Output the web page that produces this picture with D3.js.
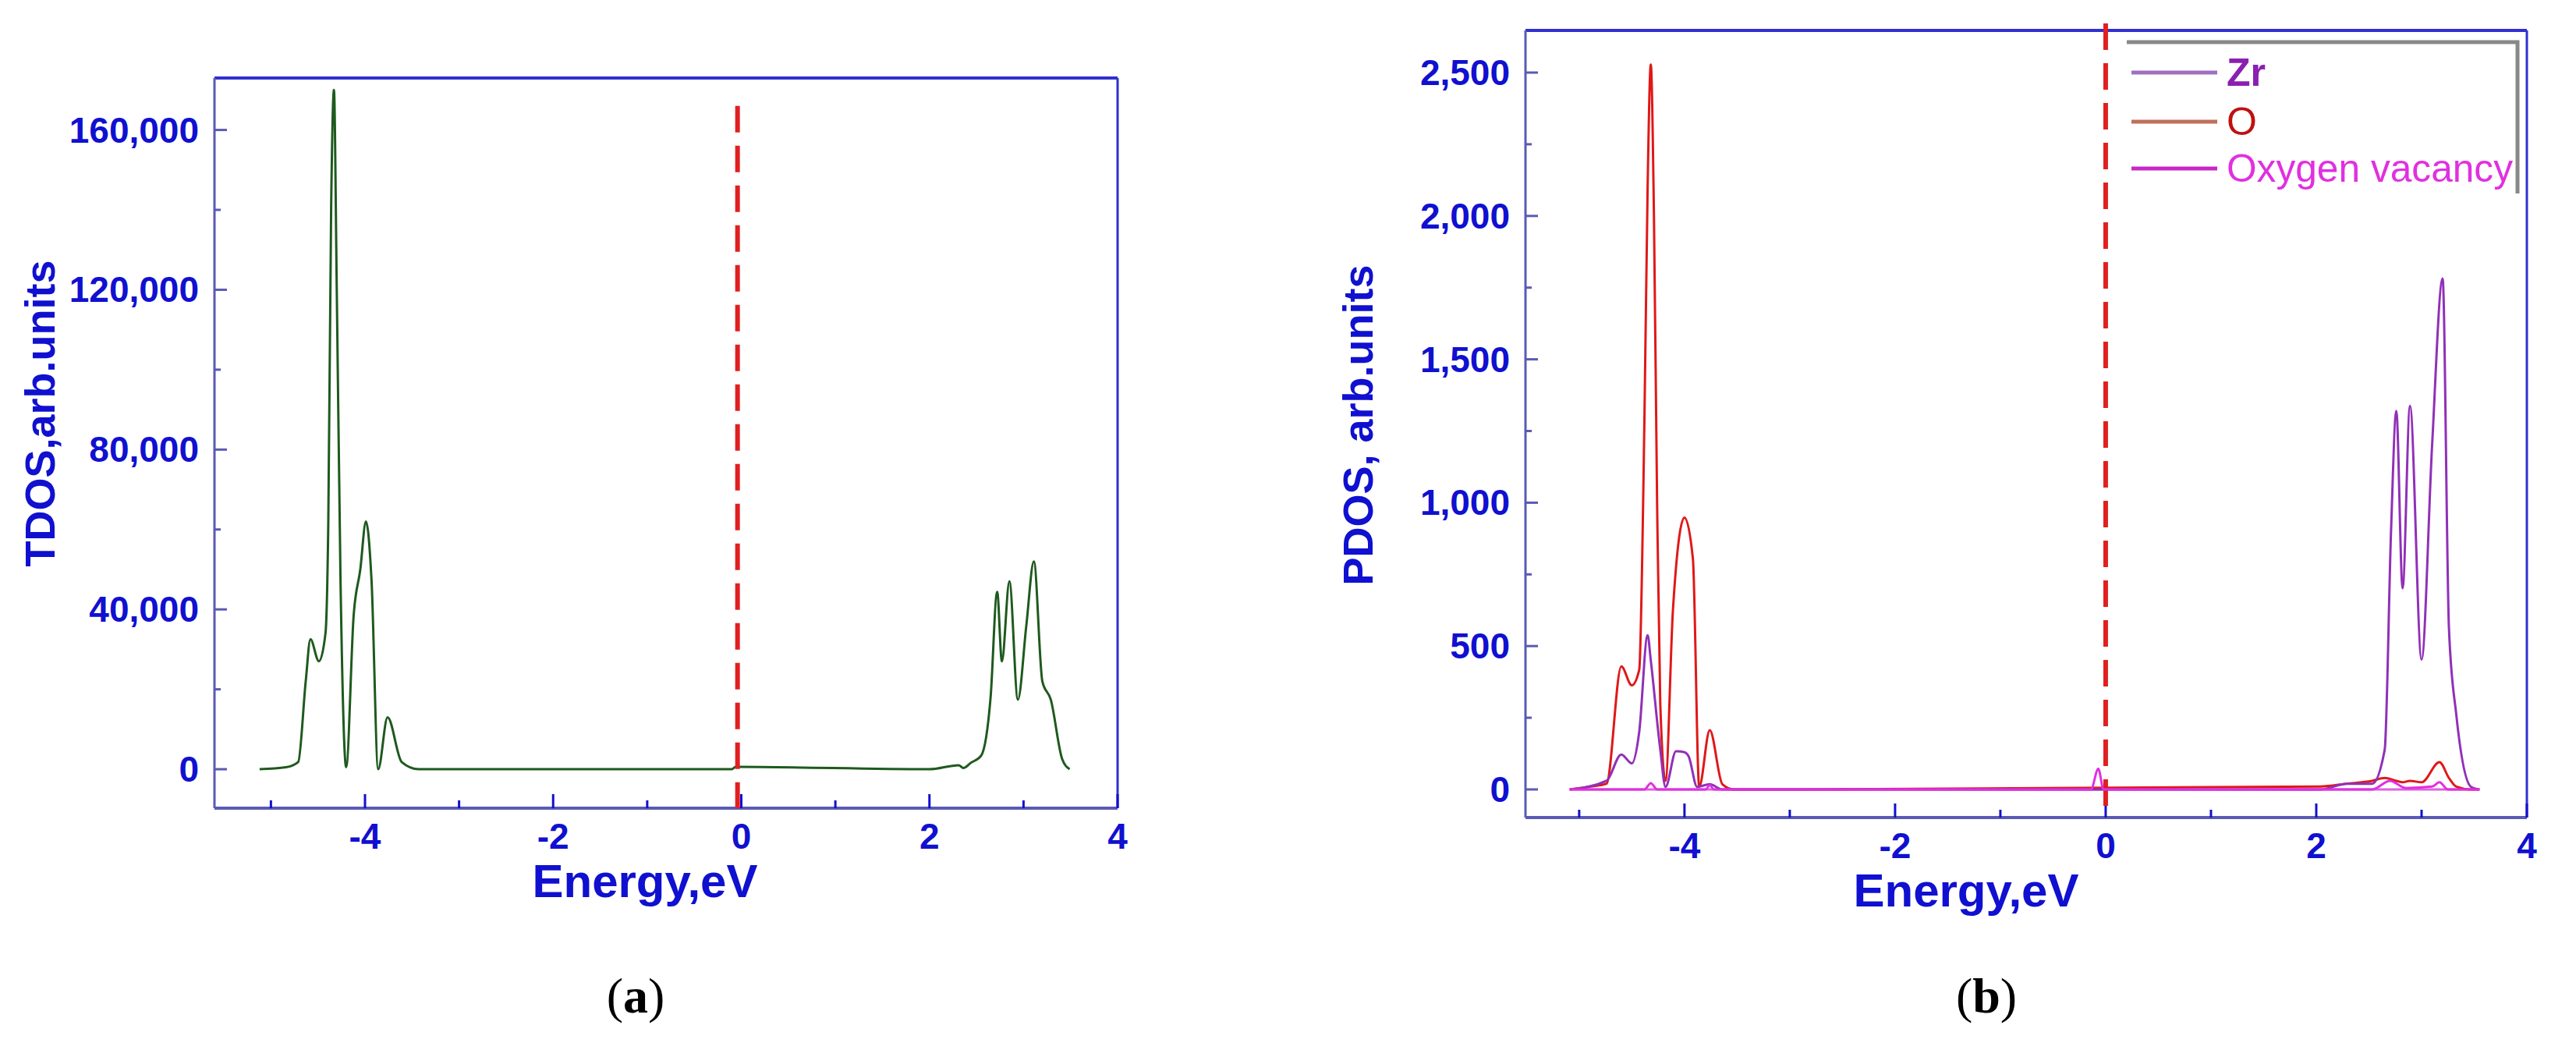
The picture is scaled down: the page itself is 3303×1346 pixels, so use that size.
<!DOCTYPE html>
<html><head><meta charset="utf-8">
<script src="https://cdn.jsdelivr.net/npm/d3@7"></script>
<style>body{margin:0;background:#fff}svg{display:block}</style>
</head><body>
<script>
// ---------- data ----------
const tdosE = [-5.12,-4.84,-4.71,-4.63,-4.58,-4.49,-4.42,-4.39,-4.36,-4.33,-4.30,-4.26,-4.20,-4.12,-4.05,-3.99,-3.93,-3.86,-3.76,-3.61,-3.43,-0.10,-0.06,2.00,2.31,2.36,2.44,2.55,2.65,2.72,2.77,2.85,2.94,3.03,3.11,3.20,3.29,3.41,3.49];
const tdosV = [0,500,1800,22000,32500,27000,34000,62000,140000,170000,120000,47000,500,38700,50000,62000,47000,0,13000,1800,0,0,600,0,1000,300,1600,3400,18000,44400,27000,47000,17400,36000,52000,22000,17400,2600,0];

const pdosE = [-5.09,-4.89,-4.74,-4.60,-4.50,-4.43,-4.38,-4.35,-4.32,-4.29,-4.26,-4.23,-4.18,-4.11,-4.00,-3.92,-3.86,-3.76,-3.64,-3.53,-3.21,2.04,2.29,2.53,2.65,2.76,2.82,2.89,3.00,3.17,3.26,3.33,3.47,3.55];
const oV    = [0,10,20,429,363,417,1300,2100,2528,2000,1000,300,30,623,948,804,9,207,18,0,0,10,20,30,40,30,25,30,25,95,40,10,0,0];
const zrE   = [-5.09,-4.74,-4.60,-4.50,-4.43,-4.35,-4.32,-4.23,-4.18,-4.08,-4.00,-3.96,-3.88,-3.76,-3.64,-3.21,2.04,2.29,2.53,2.65,2.71,2.76,2.82,2.89,3.00,3.10,3.20,3.26,3.33,3.47,3.55];
const zrV   = [0,30,122,91,200,538,450,139,9,133,130,115,9,18,0,0,0,20,20,139,900,1320,701,1338,453,1200,1782,562,260,9,0];
const vacE  = [-5.09,-4.38,-4.32,-4.26,-3.80,-3.76,-3.72,-0.14,-0.07,-0.02,2.53,2.70,2.85,3.10,3.17,3.25,3.55];
const vacV  = [0,0,22,0,0,15,0,0,72,0,0,30,5,10,25,0,0];

const xTicks = [-4,-2,0,2,4];
const xMinor = [-5,-3,-1,1,3];
const tdosTicks = [0,40000,80000,120000,160000];
const tdosMinor = [20000,60000,100000,140000];
const pdosTicks = [0,500,1000,1500,2000,2500];
const pdosMinor = [250,750,1250,1750,2250];
const legendNames = ["Zr","O","Oxygen vacancy"];
const legendColors = ["#a070c0","#c0705a","#c828c8"];
const legendText = ["#8a20b0","#c01010","#e030e0"];

// ---------- drawing ----------
const svg = d3.select("body").append("svg").attr("width",3303).attr("height",1346);
const blue = "#1010d0", frame = "#5a5ab4";
const fmt = d3.format(",");

function panel(o){
  const x = d3.scaleLinear().domain(o.xd).range([o.l,o.r]);
  const y = d3.scaleLinear().domain(o.yd).range([o.b,o.t]);
  const g = svg.append("g");
  g.append("line").attr("x1",o.l).attr("x2",o.r).attr("y1",o.t).attr("y2",o.t).attr("stroke","#3030d0").attr("stroke-width",4);
  g.append("line").attr("x1",o.l).attr("x2",o.r).attr("y1",o.b).attr("y2",o.b).attr("stroke",frame).attr("stroke-width",4);
  g.append("line").attr("x1",o.l).attr("x2",o.l).attr("y1",o.t).attr("y2",o.b).attr("stroke",frame).attr("stroke-width",3);
  g.append("line").attr("x1",o.r).attr("x2",o.r).attr("y1",o.t).attr("y2",o.b).attr("stroke","#3030d0").attr("stroke-width",3);
  g.selectAll(null).data(xTicks).enter().append("line").attr("x1",d=>x(d)).attr("x2",d=>x(d)).attr("y1",o.b).attr("y2",o.b-18).attr("stroke",blue).attr("stroke-width",3);
  g.selectAll(null).data(xMinor).enter().append("line").attr("x1",d=>x(d)).attr("x2",d=>x(d)).attr("y1",o.b).attr("y2",o.b-10).attr("stroke",blue).attr("stroke-width",3);
  g.selectAll(null).data(xTicks).enter().append("text").attr("x",d=>x(d)).attr("y",o.b+52)
    .attr("text-anchor","middle").attr("font-family","Liberation Sans").attr("font-weight","bold").attr("font-size",46).attr("fill",blue).text(d=>d);
  g.selectAll(null).data(o.yt).enter().append("line").attr("x1",o.l).attr("x2",o.l+16).attr("y1",d=>y(d)).attr("y2",d=>y(d)).attr("stroke",frame).attr("stroke-width",3);
  g.selectAll(null).data(o.ym).enter().append("line").attr("x1",o.l).attr("x2",o.l+8).attr("y1",d=>y(d)).attr("y2",d=>y(d)).attr("stroke",frame).attr("stroke-width",3);
  g.selectAll(null).data(o.yt).enter().append("text").attr("x",o.l-20).attr("y",d=>y(d)+16)
    .attr("text-anchor","end").attr("font-family","Liberation Sans").attr("font-weight","bold").attr("font-size",46).attr("fill",blue).text(d=>fmt(d));
  g.append("text").attr("x",(o.l+o.r)/2 + o.xtOff).attr("y",o.b+114).attr("text-anchor","middle")
    .attr("font-family","Liberation Sans").attr("font-weight","bold").attr("font-size",60).attr("fill",blue).text("Energy,eV");
  g.append("text").attr("transform",`translate(${o.ytx},${o.yty}) rotate(-90)`).attr("text-anchor","middle")
    .attr("font-family","Liberation Sans").attr("font-weight","bold").attr("font-size",54).attr("fill",blue).text(o.ytitle);
  g.append("text").attr("x",o.capx).attr("y",1298).attr("text-anchor","middle")
    .attr("font-family","Liberation Serif").attr("font-size",64).attr("fill","#000")
    .html(`(<tspan font-weight="bold">${o.cap}</tspan>)`);
  return {x,y,g};
}

const A = panel({l:275,r:1433,t:100,b:1036,xd:[-5.6,4],yd:[-9750,173000],yt:tdosTicks,ym:tdosMinor,
  ytitle:"TDOS,arb.units",ytx:70,yty:530,xtOff:-27,cap:"a",capx:815});
const lineA = d3.line().x((d,i)=>A.x(tdosE[i])).y(d=>A.y(d)).curve(d3.curveMonotoneX);
A.g.append("path").attr("d",lineA(tdosV)).attr("fill","none").attr("stroke","#1e5a1e").attr("stroke-width",3);
A.g.append("line").attr("x1",A.x(-0.04)).attr("x2",A.x(-0.04)).attr("y1",A.y(166000)).attr("y2",1036)
  .attr("stroke","#e02020").attr("stroke-width",6).attr("stroke-dasharray","34,17");

const B = panel({l:1956,r:3240,t:39,b:1048,xd:[-5.51,4],yd:[-98,2647],yt:pdosTicks,ym:pdosMinor,
  ytitle:"PDOS, arb.units",ytx:1760,yty:545,xtOff:-77,cap:"b",capx:2547});
B.g.append("line").attr("x1",B.x(-5.09)).attr("x2",B.x(3.55)).attr("y1",B.y(0)).attr("y2",B.y(0)).attr("stroke","#e060e0").attr("stroke-width",3);
B.g.append("line").attr("x1",B.x(0)).attr("x2",B.x(0)).attr("y1",30).attr("y2",1048)
  .attr("stroke","#e02020").attr("stroke-width",6).attr("stroke-dasharray","34,17");
const series = [[pdosE,oV,"#e01818"],[zrE,zrV,"#9030b8"],[vacE,vacV,"#e030e0"]];
series.forEach(([E,V,c])=>{
  const ln = d3.line().x((d,i)=>B.x(E[i])).y(d=>B.y(d)).curve(d3.curveMonotoneX);
  B.g.append("path").attr("d",ln(V)).attr("fill","none").attr("stroke",c).attr("stroke-width",3);
});

const lg = svg.append("g");
lg.append("path").attr("d","M2727,54 H3228 V248").attr("fill","none").attr("stroke","#888").attr("stroke-width",5);
const ly = [93,156,216];
legendNames.forEach((n,i)=>{
  lg.append("line").attr("x1",2733).attr("x2",2843).attr("y1",ly[i]).attr("y2",ly[i]).attr("stroke",legendColors[i]).attr("stroke-width",5);
  const t = lg.append("text").attr("x",2855).attr("y",ly[i]+17).attr("font-family","Liberation Sans Narrow, Liberation Sans").attr("font-size",50)
    .attr("font-weight",i==0?"bold":"normal").attr("fill",legendText[i]).text(n);
  if(i==2) t.attr("textLength",367).attr("lengthAdjust","spacingAndGlyphs");
});
</script>
</body></html>
